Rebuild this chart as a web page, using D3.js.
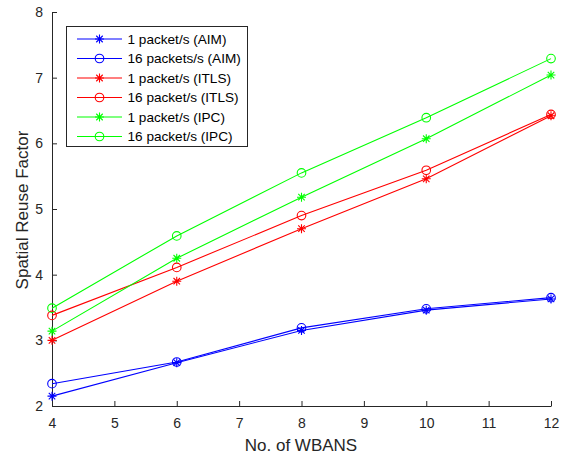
<!DOCTYPE html>
<html><head><meta charset="utf-8">
<script src="https://cdn.jsdelivr.net/npm/d3@7"></script>
<style>body{margin:0;background:#fff}svg{display:block;font-family:"Liberation Sans",Arial,sans-serif}</style>
</head><body><svg id="c" width="571" height="458"></svg>
<script>
const xValues = [4, 6, 8, 10, 12];
const aim1 = [2.15, 2.66, 3.15, 3.46, 3.63];
const aim16 = [2.34, 2.67, 3.19, 3.48, 3.65];
const itls1 = [3.00, 3.90, 4.70, 5.46, 6.42];
const itls16 = [3.38, 4.11, 4.90, 5.59, 6.44];
const ipc1 = [3.14, 4.25, 5.18, 6.07, 7.04];
const ipc16 = [3.49, 4.59, 5.55, 6.39, 7.29];
const seriesNames = ["1 packet/s (AIM)", "16 packets/s (AIM)", "1 packet/s (ITLS)", "16 packet/s (ITLS)", "1 packet/s (IPC)", "16 packet/s (IPC)"];
const xTicks = [4, 5, 6, 7, 8, 9, 10, 11, 12];
const yTicks = [2, 3, 4, 5, 6, 7, 8];

const series = [
  {name: seriesNames[0], values: aim1, color: "#0000ff", marker: "star"},
  {name: seriesNames[1], values: aim16, color: "#0000ff", marker: "circle"},
  {name: seriesNames[2], values: itls1, color: "#ff0000", marker: "star"},
  {name: seriesNames[3], values: itls16, color: "#ff0000", marker: "circle"},
  {name: seriesNames[4], values: ipc1, color: "#00ff00", marker: "star"},
  {name: seriesNames[5], values: ipc16, color: "#00ff00", marker: "circle"}
];

const svg = d3.select("#c");
const L = 52, R = 551, T = 12, B = 406;
const x = d3.scaleLinear().domain([4, 12]).range([L, R]);
const y = d3.scaleLinear().domain([2, 8]).range([B, T]);
const axisColor = "#262626";

// axes
const xa = svg.append("g").attr("transform", `translate(0,${B})`)
  .call(d3.axisBottom(x).tickValues(xTicks).tickFormat(d3.format("d")).tickSizeInner(-5).tickSizeOuter(0).tickPadding(12));
const ya = svg.append("g").attr("transform", `translate(${L},0)`)
  .call(d3.axisLeft(y).tickValues(yTicks).tickFormat(d3.format("d")).tickSizeInner(-5).tickSizeOuter(0).tickPadding(9));
[xa, ya].forEach(g => {
  g.select(".domain").attr("stroke", axisColor).attr("stroke-width", 1);
  g.selectAll(".tick line").attr("stroke", axisColor);
  g.selectAll(".tick text").attr("fill", axisColor).style("font-size", "14px").style("font-family", '"Liberation Sans",Arial,sans-serif');
});

function drawMarker(g, type, cx, cy, color) {
  if (type === "circle") {
    g.append("circle").attr("cx", cx).attr("cy", cy).attr("r", 4.3)
      .attr("fill", "none").attr("stroke", color).attr("stroke-width", 1.1);
  } else {
    const s = 4.5, d = s * 0.72;
    const p = `M${cx - s},${cy}L${cx + s},${cy}M${cx},${cy - s}L${cx},${cy + s}M${cx - d},${cy - d}L${cx + d},${cy + d}M${cx - d},${cy + d}L${cx + d},${cy - d}`;
    g.append("path").attr("d", p).attr("stroke", color).attr("stroke-width", 1.1).attr("fill", "none");
  }
}

const line = d3.line().x((d, i) => x(xValues[i])).y(d => y(d));
const plot = svg.append("g");
series.forEach(s => {
  plot.append("path").datum(s.values).attr("d", line)
    .attr("fill", "none").attr("stroke", s.color).attr("stroke-width", 1.1);
  s.values.forEach((v, i) => drawMarker(plot, s.marker, x(xValues[i]), y(v), s.color));
});

// legend
const lg = svg.append("g");
lg.append("rect").attr("x", 66.5).attr("y", 26.5).attr("width", 181).attr("height", 120)
  .attr("fill", "#fff").attr("stroke", axisColor).attr("stroke-width", 1);
series.forEach((s, i) => {
  const yy = 39 + i * 19.5;
  lg.append("line").attr("x1", 77).attr("x2", 122).attr("y1", yy).attr("y2", yy)
    .attr("stroke", s.color).attr("stroke-width", 1.1);
  drawMarker(lg, s.marker, 99.5, yy, s.color);
  lg.append("text").attr("x", 127.5).attr("y", yy).attr("dy", "0.35em")
    .style("font-size", "13.6px").attr("fill", "#000").text(s.name);
});

// axis titles
svg.append("text").attr("x", 301).attr("y", 451).attr("text-anchor", "middle")
  .style("font-size", "17px").attr("fill", axisColor).text("No. of WBANS");
svg.append("text").attr("transform", `translate(28,210) rotate(-90)`).attr("text-anchor", "middle")
  .style("font-size", "17px").attr("fill", axisColor).text("Spatial Reuse Factor");
</script></body></html>
